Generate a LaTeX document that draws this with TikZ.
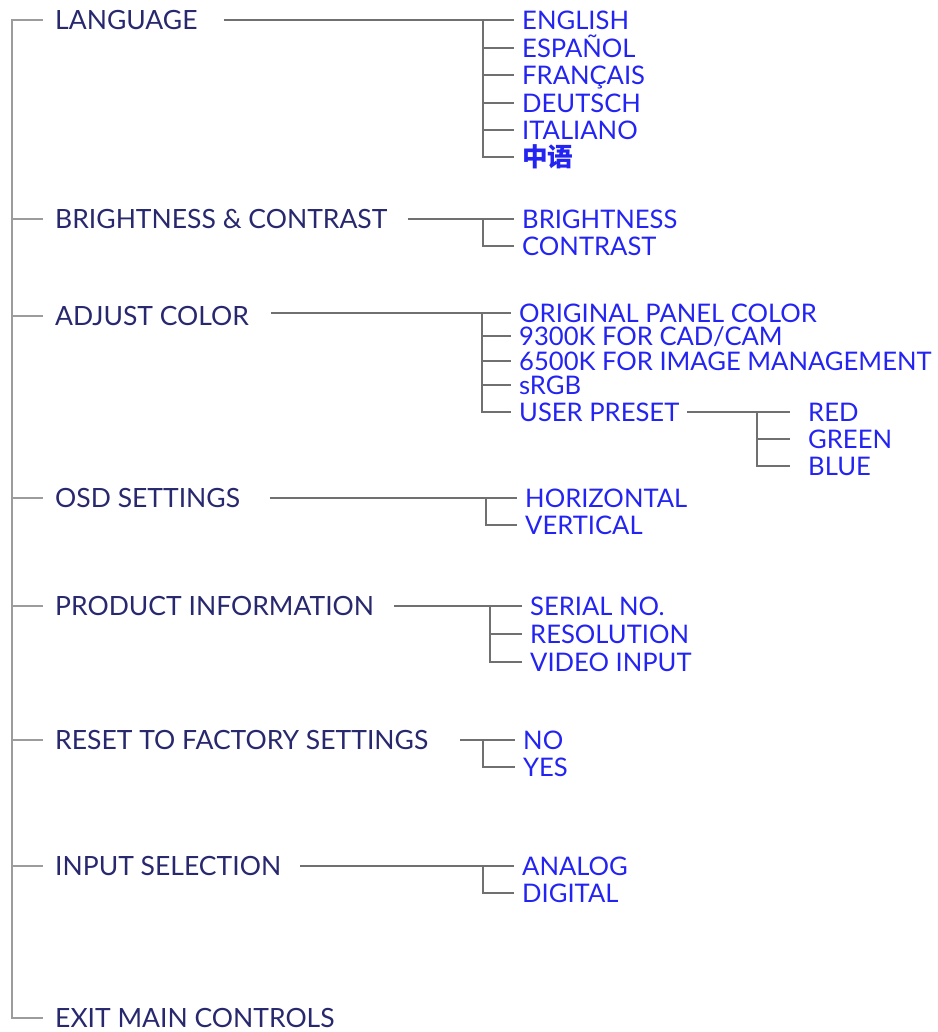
\documentclass[tikz,border=0pt]{standalone}
\usepackage{fontspec}
\setmainfont{Lato}
\newfontfamily\cjk{Noto Sans CJK SC}
\usepackage{xcolor}
\definecolor{menunavy}{HTML}{28286E}
\definecolor{menublue}{HTML}{2424F2}
\definecolor{trunkgray}{HTML}{9C9C9C}
\definecolor{linkgray}{HTML}{707070}

\begin{document}
\begin{tikzpicture}[x=1pt,y=-1pt,
  mainitem/.style={anchor=west,text=menunavy,font=\fontsize{26.5}{29}\selectfont,
    inner xsep=12pt,inner ysep=0pt,text height=19pt,text depth=0pt},
  subitem/.style={anchor=west,text=menublue,font=\fontsize{25.6}{28}\selectfont,
    inner xsep=8pt,inner ysep=0pt,text height=18.4pt,text depth=0pt},
  trunk/.style={draw=trunkgray,line width=2pt},
  link/.style={draw=linkgray,line width=1.6pt}]
\useasboundingbox (0,0) rectangle (937,1032);

% main menu
\node[mainitem] (lang)  at (43,20)   {LANGUAGE};
\node[mainitem] (bri)   at (43,219)  {BRIGHTNESS \& CONTRAST};
\node[mainitem] (adj)   at (43,316)  {ADJUST COLOR};
\node[mainitem] (osd)   at (43,498)  {OSD SETTINGS};
\node[mainitem] (prod)  at (43,606)  {PRODUCT INFORMATION};
\node[mainitem] (reset) at (43,740)  {RESET TO FACTORY SETTINGS};
\node[mainitem] (input) at (43,866)  {INPUT SELECTION};
\node[mainitem] (exit)  at (43,1018) {EXIT MAIN CONTROLS};

\coordinate (trunktop) at (12,20);
\coordinate (trunkbot) at (12,1018);
\draw[trunk] (lang.west) -- (trunktop) -- (trunkbot) -- (exit.west);
\foreach \m in {bri,adj,osd,prod,reset,input}
  \draw[trunk] (trunktop) |- (\m.west);

% language
\node[subitem] (eng) at (514,20)  {ENGLISH};
\node[subitem] (esp) at (514,48)  {ESPAÑOL};
\node[subitem] (fra) at (514,75)  {FRANÇAIS};
\node[subitem] (deu) at (514,103) {DEUTSCH};
\node[subitem] (ita) at (514,130) {ITALIANO};
\node[subitem] (zh)  at (514,157) {\cjk\bfseries 中语};
\coordinate (langfork) at (483,20);
\draw[link,shorten <=14pt] (lang) -- (eng);
\foreach \c in {esp,fra,deu,ita,zh}
  \draw[link] (langfork) |- (\c.west);

% brightness & contrast
\node[subitem] (brt) at (514,219) {BRIGHTNESS};
\node[subitem] (con) at (514,246) {CONTRAST};
\coordinate (brifork) at (483,219);
\draw[link,shorten <=8pt] (bri) -- (brt);
\draw[link] (brifork) |- (con.west);

% adjust color
\node[subitem] (orig) at (511,313) {ORIGINAL PANEL COLOR};
\node[subitem] (kcad) at (511,336) {9300K FOR CAD/CAM};
\node[subitem] (kimg) at (511,361) {6500K FOR IMAGE MANAGEMENT};
\node[subitem] (srgb) at (511,385) {sRGB};
\node[subitem] (user) at (511,412) {USER PRESET};
\coordinate (adjfork) at (482,313);
\draw[link,shorten <=10pt] (adj.east |- orig) -- (orig);
\foreach \c in {kcad,kimg,srgb,user}
  \draw[link] (adjfork) |- (\c.west);

% user preset
\node[subitem] (red)   at (800,412) {RED};
\node[subitem] (green) at (800,439) {GREEN};
\node[subitem] (blue)  at (800,466) {BLUE};
\coordinate (userfork) at (757,412);
\draw[link,shorten >=10pt] (user) -- (red);
\foreach \c in {green,blue}
  \draw[link,shorten >=10pt] (userfork) |- (\c.west);

% osd settings
\node[subitem] (hor) at (517,498) {HORIZONTAL};
\node[subitem] (ver) at (517,525) {VERTICAL};
\coordinate (osdfork) at (486,498);
\draw[link,shorten <=18pt] (osd) -- (hor);
\draw[link] (osdfork) |- (ver.west);

% product information
\node[subitem] (ser) at (522,606) {SERIAL NO.};
\node[subitem] (res) at (522,634) {RESOLUTION};
\node[subitem] (vid) at (522,662) {VIDEO INPUT};
\coordinate (prodfork) at (490,606);
\draw[link,shorten <=8pt] (prod) -- (ser);
\foreach \c in {res,vid}
  \draw[link] (prodfork) |- (\c.west);

% reset
\node[subitem] (no)  at (515,740) {NO};
\node[subitem] (yes) at (515,767) {YES};
\coordinate (resetfork) at (483,740);
\draw[link,shorten <=20pt] (reset) -- (no);
\draw[link] (resetfork) |- (yes.west);

% input selection
\node[subitem] (ana) at (514,866) {ANALOG};
\node[subitem] (dig) at (514,893) {DIGITAL};
\coordinate (inputfork) at (483,866);
\draw[link,shorten <=7pt] (input) -- (ana);
\draw[link] (inputfork) |- (dig.west);
\end{tikzpicture}
\end{document}
